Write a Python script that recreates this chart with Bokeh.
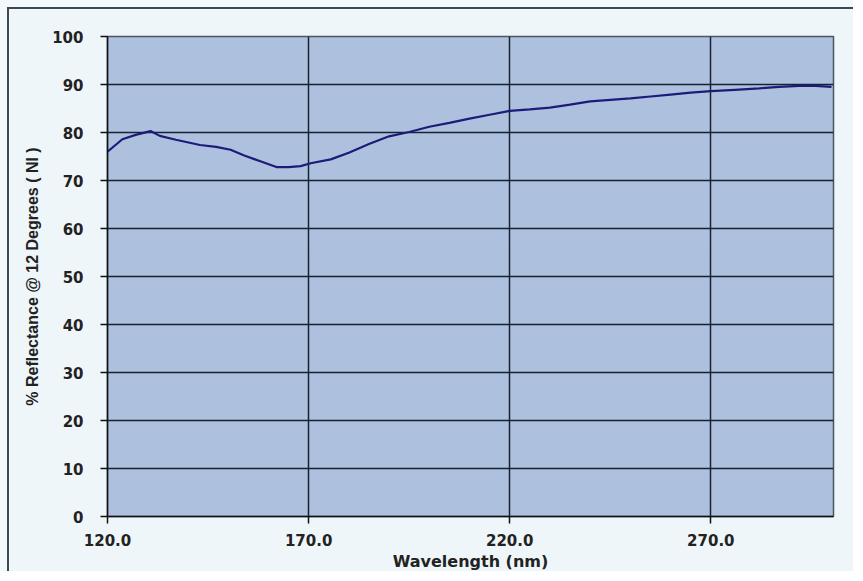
from bokeh.plotting import figure
from bokeh.layouts import column
from bokeh.models import FixedTicker, NumeralTickFormatter, Range1d
from bokeh.embed import file_html
from bokeh.resources import INLINE

wavelength = [120, 123.7, 127, 130.7, 133, 137, 143, 147, 150.6, 154, 158, 162, 165, 168, 170.5,
              175.5, 180, 185, 190, 195, 200, 205, 210, 215, 220, 225, 230, 235, 240, 245, 250,
              255, 260, 265, 270, 276, 282, 287, 292, 296, 300]
reflectance = [76.0, 78.6, 79.5, 80.3, 79.3, 78.5, 77.4, 77.0, 76.4, 75.2, 74.0, 72.8, 72.8, 73.0, 73.6,
               74.4, 75.8, 77.6, 79.2, 80.1, 81.2, 82.0, 82.9, 83.7, 84.5, 84.8, 85.2, 85.8, 86.5, 86.8, 87.1,
               87.5, 87.9, 88.3, 88.6, 88.9, 89.2, 89.5, 89.7, 89.7, 89.5]
x_ticks = [120, 170, 220, 270]
y_ticks = [0, 10, 20, 30, 40, 50, 60, 70, 80, 90, 100]

p = figure(width=846, height=564, output_backend="svg", toolbar_location=None,
           x_range=Range1d(120, 300.5), y_range=Range1d(0, 100),
           min_border_left=98, min_border_top=27, min_border_right=22, min_border_bottom=51)
p.background_fill_color = "#adc1df"
p.border_fill_color = "#eff6f9"
p.outline_line_color = "#4a5560"
p.outline_line_width = 1.5
p.styles = {"border-left": "2px solid #3a4a55", "border-top": "2px solid #3a4a55"}

p.line(wavelength, reflectance, line_color="#1c1c78", line_width=2.2)

for ax in (p.xaxis[0], p.yaxis[0]):
    ax.axis_line_color = "#111111"
    ax.axis_line_width = 1.5
    ax.major_tick_line_color = "#111111"
    ax.major_tick_line_width = 1.5
    ax.major_tick_in = 0
    ax.major_tick_out = 7
    ax.minor_tick_line_color = None
    ax.major_label_text_font = "DejaVu Sans"
    ax.major_label_text_font_style = "bold"
    ax.major_label_text_font_size = "15px"
    ax.major_label_text_color = "#222222"
    ax.axis_label_text_font_style = "bold"
    ax.axis_label_text_color = "#222222"

p.xaxis.ticker = FixedTicker(ticks=x_ticks)
p.xaxis.formatter = NumeralTickFormatter(format="0.0")
p.yaxis.ticker = FixedTicker(ticks=y_ticks)
p.xaxis.axis_label = "Wavelength (nm)"
p.xaxis.axis_label_text_font = "DejaVu Sans"
p.xaxis.axis_label_text_font_size = "16px"
p.xaxis.axis_label_standoff = 3
p.xaxis.major_label_standoff = 10
p.yaxis.axis_label = "% Reflectance @ 12 Degrees ( NI )"
p.yaxis.axis_label_text_font = "Liberation Sans"
p.yaxis.axis_label_text_font_size = "16px"
p.yaxis.major_label_standoff = 17
p.yaxis.axis_label_standoff = 8

p.xgrid.ticker = FixedTicker(ticks=x_ticks)
p.ygrid.ticker = FixedTicker(ticks=y_ticks)
for g in (p.xgrid[0], p.ygrid[0]):
    g.grid_line_color = "#1a2030"
    g.grid_line_width = 1.5
    g.grid_line_alpha = 1.0

root = column(p, styles={"padding": "7px 0 0 7px", "background": "#f3f9fb"})

open("out.html", "w").write(file_html(root, INLINE))
